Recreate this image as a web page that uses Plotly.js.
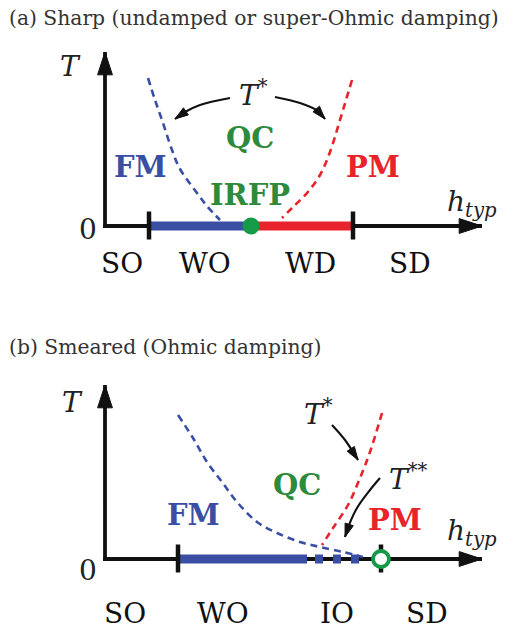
<!DOCTYPE html>
<html>
<head>
<meta charset="utf-8">
<script src="https://cdn.plot.ly/plotly-3.0.1.min.js"></script>
<style>html,body{margin:0;padding:0;background:#fff;}#chart{width:515px;height:631px;}</style>
</head>
<body>
<div id="chart"></div>
<script>
// ---------- data (h_typ in arbitrary units, T in arbitrary units) ----------
// Panel (a): sharp transition
const axisTipH = 37.7;            // end of h_typ axis arrow
const axisTipT = 17.4;            // end of T axis arrow
const ticksA = [4.4, 24.8];       // SO|WO and WD|SD boundaries
const irfpH = 14.6;               // infinite-randomness fixed point
const blueA_h = [4.3, 5.0, 5.7, 6.7, 7.5, 9.2, 10.2, 11.5];
const blueA_T = [14.8, 12.6, 10.6, 7.6, 5.7, 3.3, 2.0, 0.6];
const redA_h = [24.7, 24.1, 23.5, 22.5, 21.5, 20.2, 18.8, 17.7];
const redA_T = [14.6, 12.6, 10.6, 7.4, 5.1, 3.3, 1.9, 0.8];
const arrowLA_h = [12.5, 9.5, 8.0, 7.0];
const arrowLA_T = [12.8, 12.1, 11.4, 10.7];
const arrowRA_h = [17.0, 19.5, 21.3, 22.0];
const arrowRA_T = [12.9, 12.3, 11.5, 10.7];
const bottomA_labels = ["SO", "WO", "WD", "SD"];
const bottomA_h = [1.7, 10.0, 20.5, 30.5];

// Panel (b): smeared transition
const ticksB = [7.3, 27.6];
const solidFM_B = [7.3, 20.2];
const tailFM_B = [21.0, 25.7];
const openPointH = 27.6;
const blueB_h = [7.3, 8.8, 10.2, 11.7, 13.2, 15.2, 17.2, 19.5, 21.5, 23.8, 25.8];
const blueB_T = [14.4, 12.1, 9.7, 7.7, 5.7, 3.7, 2.6, 1.7, 1.2, 0.7, 0.2];
const redB_h = [27.7, 26.5, 25.5, 24.3, 22.8, 21.7];
const redB_T = [14.6, 10.7, 8.1, 5.4, 3.1, 1.4];
const arrowT1B_h = [22.7, 24.0, 25.3];
const arrowT1B_T = [13.4, 11.9, 9.9];
const arrowT2B_h = [27.5, 26.5, 25.2, 24.4, 24.0];
const arrowT2B_T = [8.1, 6.9, 5.1, 3.4, 2.2];
const bottomB_labels = ["SO", "WO", "IO", "SD"];
const bottomB_h = [2.0, 11.8, 23.2, 32.2];

// ---------- styles ----------
const BLUE = "#3a4fa3", RED = "#e8232b", GREEN = "#2e8a3c", DOT = "#159a48", INK = "#111";
const SERIF = "DejaVu Serif, serif";
const LBL = 28, BOLD = 29;

function tr(ax, o) { return Object.assign({xaxis: ax[0], yaxis: ax[1], hoverinfo: "skip", showlegend: false}, o); }
function arrowTrace(ax, xs, ys, w, sz) {
  return tr(ax, {x: xs, y: ys, mode: "lines+markers", line: {color: INK, width: w, shape: "spline"},
    marker: {symbol: "arrow", angleref: "previous", color: INK, opacity: 1, line: {color: INK, width: 1},
      size: xs.map((_, i) => i === xs.length - 1 ? sz : 0)}});
}
function tickTrace(ax, h) {
  return tr(ax, {x: [h, h], y: [1.45, -1.35], mode: "lines", line: {color: INK, width: 4.5}});
}

const A = ["x", "y"], B = ["x2", "y2"];
const traces = [];
[A, B].forEach(ax => {
  traces.push(arrowTrace(ax, [0, 0], [-0.2, axisTipT], 3.8, 24));
  traces.push(arrowTrace(ax, [-0.19, axisTipH], [0, 0], 3.8, 24));
});
// panel a
traces.push(tr(A, {x: [ticksA[0], irfpH], y: [0, 0], mode: "lines", line: {color: BLUE, width: 9}}));
traces.push(tr(A, {x: [irfpH, ticksA[1]], y: [0, 0], mode: "lines", line: {color: RED, width: 9}}));
ticksA.forEach(h => traces.push(tickTrace(A, h)));
traces.push(tr(A, {x: blueA_h, y: blueA_T, mode: "lines", line: {color: BLUE, width: 2.6, dash: "7px,5px", shape: "spline"}}));
traces.push(tr(A, {x: redA_h, y: redA_T, mode: "lines", line: {color: RED, width: 2.6, dash: "7px,5px", shape: "spline"}}));
traces.push(tr(A, {x: [irfpH], y: [0], mode: "markers", marker: {color: DOT, size: 17}}));
traces.push(arrowTrace(A, arrowLA_h, arrowLA_T, 2.1, 14));
traces.push(arrowTrace(A, arrowRA_h, arrowRA_T, 2.1, 14));
// panel b
traces.push(tr(B, {x: solidFM_B, y: [0, 0], mode: "lines", line: {color: BLUE, width: 9}}));
traces.push(tr(B, {x: tailFM_B, y: [0, 0], mode: "lines", line: {color: BLUE, width: 9, dash: "8px,10px"}}));
ticksB.forEach(h => traces.push(tickTrace(B, h)));
traces.push(tr(B, {x: blueB_h, y: blueB_T, mode: "lines", line: {color: BLUE, width: 2.6, dash: "7px,5px", shape: "spline"}}));
traces.push(tr(B, {x: redB_h, y: redB_T, mode: "lines", line: {color: RED, width: 2.6, dash: "7px,5px", shape: "spline"}}));
traces.push(tr(B, {x: [openPointH], y: [0], mode: "markers", marker: {color: "#fff", size: 16, line: {color: DOT, width: 3.8}}}));
traces.push(arrowTrace(B, arrowT1B_h, arrowT1B_T, 2.1, 14));
traces.push(arrowTrace(B, arrowT2B_h, arrowT2B_T, 2.1, 14));

function lab(ax, x, y, text, color, size, extra) {
  return Object.assign({xref: ax[0], yref: ax[1], x: x, y: y, text: text, showarrow: false,
    xanchor: "center", yanchor: "middle", font: {family: SERIF, size: size || LBL, color: color || INK}}, extra || {});
}
const ann = [
  {xref: "paper", yref: "paper", x: 0.014, y: 1 - 18 / 631, xanchor: "left", yanchor: "middle", showarrow: false,
   text: "(a) Sharp (undamped or super-Ohmic damping)", font: {family: SERIF, size: 20.3, color: "#333"}},
  {xref: "paper", yref: "paper", x: 0.014, y: 1 - 347 / 631, xanchor: "left", yanchor: "middle", showarrow: false,
   text: "(b) Smeared (Ohmic damping)", font: {family: SERIF, size: 20.3, color: "#333"}},
  // panel a
  lab(A, -3.5, 16.0, "<i>T</i>", "#222"),
  lab(A, -1.7, -0.3, "0", "#222"),
  lab(A, 14.8, 13.3, "<i>T</i><sup>*</sup>", "#222"),
  lab(A, 14.5, 8.8, "<b>QC</b>", GREEN, BOLD),
  lab(A, 3.5, 5.9, "<b>FM</b>", BLUE, BOLD),
  lab(A, 26.8, 5.9, "<b>PM</b>", RED, BOLD),
  lab(A, 14.5, 3.1, "<b>IRFP</b>", GREEN, BOLD),
  lab(A, 36.7, 2.3, "<i>h<sub>typ</sub></i>", "#222"),
  // panel b
  lab(B, -3.3, 15.7, "<i>T</i>", "#222"),
  lab(B, -1.7, -1.1, "0", "#222"),
  lab(B, 21.3, 14.7, "<i>T</i><sup>*</sup>", "#222"),
  lab(B, 30.3, 8.2, "<i>T</i><sup>**</sup>", "#222"),
  lab(B, 19.2, 7.4, "<b>QC</b>", GREEN, BOLD),
  lab(B, 8.8, 4.4, "<b>FM</b>", BLUE, BOLD),
  lab(B, 29.0, 3.9, "<b>PM</b>", RED, BOLD),
  lab(B, 36.7, 2.7, "<i>h<sub>typ</sub></i>", "#222")
];
bottomA_labels.forEach((t, i) => ann.push(lab(A, bottomA_h[i], -3.7, t, "#111")));
bottomB_labels.forEach((t, i) => ann.push(lab(B, bottomB_h[i], -5.4, t, "#111")));

const hidden = {visible: false, fixedrange: true};
const layout = {
  width: 515, height: 631, margin: {l: 0, r: 0, t: 0, b: 0},
  paper_bgcolor: "#fff", plot_bgcolor: "rgba(0,0,0,0)", showlegend: false, hovermode: false,
  xaxis: Object.assign({domain: [0, 1], range: [-10.5, 41], anchor: "y"}, hidden),
  yaxis: Object.assign({domain: [0.5, 1], range: [-8.95, 22.6], anchor: "x"}, hidden),
  xaxis2: Object.assign({domain: [0, 1], range: [-10.5, 41], anchor: "y2"}, hidden),
  yaxis2: Object.assign({domain: [0, 0.5], range: [-7.2, 24.35], anchor: "x2"}, hidden),
  annotations: ann
};
Plotly.newPlot("chart", traces, layout, {staticPlot: true, displayModeBar: false});
</script>
</body>
</html>
